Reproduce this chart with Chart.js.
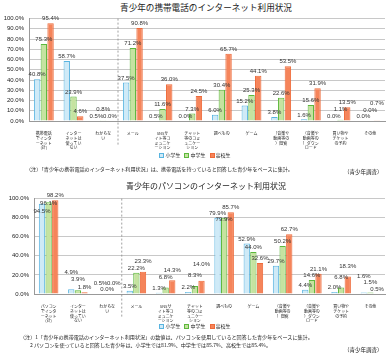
<!DOCTYPE html>
<html lang="ja">
<head>
<meta charset="utf-8">
<script src="https://cdn.jsdelivr.net/npm/chart.js@4.4.0/dist/chart.umd.min.js"></script>
<style>
  body { margin: 0; width: 390px; height: 353px; background: #fff; position: relative; overflow: hidden;
         font-family: "Noto Sans CJK JP", sans-serif; color: #222; }
  canvas { position: absolute; left: 0; }
  .title { position: absolute; left: 0; width: 412px; text-align: center; white-space: nowrap; }
  .legend { position: absolute; left: 0; width: 386px; text-align: center; font-size: 5px; white-space: nowrap; }
  .legend span.box { display: inline-block; width: 3px; height: 3px; margin: 0 1px 0 4px; vertical-align: middle; }
  .b1 { border: 1px solid #58b4e0; background: #cfeaf7; }
  .b2 { border: 1px solid #5cb83c; background: #c5e3a0; }
  .b3 { border: 1px solid #ee6a3a; background: #f5845a; }
  .note { position: absolute; font-size: 5.1px; white-space: nowrap; }
  .src { position: absolute; left: 344px; font-size: 5.5px; white-space: nowrap; }
</style>
</head>
<body>
<div class="title" style="top:1px; font-size:8.6px;">青少年の携帯電話のインターネット利用状況</div>
<canvas id="c1" width="390" height="150" style="top:10px"></canvas>
<div class="legend" style="top:151px;"><span class="box b1"></span>小学生<span class="box b2"></span>中学生<span class="box b3"></span>高校生</div>
<div class="note" style="left:26px; top:165px;">（注）「青少年の携帯電話のインターネット利用状況」は、携帯電話を持っていると回答した青少年をベースに集計。</div>
<div class="src" style="top:168px;">（青少年調査）</div>

<div class="title" style="top:180px; font-size:8px;">青少年のパソコンのインターネット利用状況</div>
<canvas id="c2" width="390" height="135" style="top:190px"></canvas>
<div class="legend" style="top:322px;"><span class="box b1"></span>小学生<span class="box b2"></span>中学生<span class="box b3"></span>高校生</div>
<div class="note" style="left:20px; top:333px;">（注）1「青少年の携帯電話のインターネット利用状況」の数値は、パソコンを使用していると回答した青少年をベースに集計。</div>
<div class="note" style="left:30px; top:341px;">2  パソコンを使っていると回答した青少年は、小学生では81.9%、中学生では85.7%、高校生では85.4%。</div>
<div class="src" style="top:346px;">（青少年調査）</div>

<script>
// --- DATA: 携帯電話 ---
const mobileLabels = [
  ["携帯電話", "でインタ", "ーネット", "(計)"],
  ["インター", "ネットは", "使ってい", "ない"],
  ["わからな", "い"],
  ["メール"],
  ["SNSサ", "イト等コ", "ミュニケ", "ーション"],
  ["チャット", "等のコミ", "ュニケー", "ション"],
  ["調べもの"],
  ["ゲーム"],
  ["（音楽や", "動画等の", "）閲覧"],
  ["（音楽や", "動画等の", "）ダウン", "ロード"],
  ["買い物や", "チケット", "の予約"],
  ["その他"]
];
const mobileElementary = [40.8, 58.7, 0.5, 37.5, 0.5, 0.0, 6.0, 15.2, 3.8, 1.6, 0.0, 0.0];
const mobileJunior     = [75.3, 23.9, 0.8, 71.2, 11.6, 7.3, 30.4, 25.3, 22.6, 15.6, 1.1, 0.0];
const mobileHigh       = [95.4, 4.6, 0.0, 90.8, 36.0, 24.5, 65.7, 44.1, 53.5, 31.9, 13.5, 0.7];

// --- DATA: パソコン ---
const pcLabels = [
  ["パソコン", "でインタ", "ーネット", "(計)"],
  ["インター", "ネットは", "使ってい", "ない"],
  ["わからな", "い"],
  ["メール"],
  ["SNSサ", "イト等コ", "ミュニケ", "ーション"],
  ["チャット", "等のコミ", "ュニケー", "ション"],
  ["調べもの"],
  ["ゲーム"],
  ["（音楽や", "動画等の", "）閲覧"],
  ["（音楽や", "動画等の", "）ダウン", "ロード"],
  ["買い物や", "チケット", "の予約"],
  ["その他"]
];
const pcElementary = [94.5, 4.9, 0.5, 3.5, 1.3, 2.2, 79.9, 52.9, 29.7, 4.4, 2.0, 1.6];
const pcJunior     = [96.1, 3.9, 0.0, 22.2, 6.8, 8.3, 79.9, 44.0, 50.2, 14.6, 6.8, 1.5];
const pcHigh       = [98.2, 1.8, 0.0, 23.3, 14.3, 14.0, 85.7, 32.6, 62.7, 21.1, 18.3, 0.5];

const seriesNames = ["小学生", "中学生", "高校生"];
const yMin = 0, yMax = 100, yStep = 10;

// --- PLUGINS ---
// value labels above each bar; labels that would collide get stacked
const valueLabels = {
  id: "valueLabels",
  afterDatasetsDraw(chart) {
    const ctx = chart.ctx;
    ctx.save();
    ctx.font = '6px "Liberation Sans"';
    ctx.fillStyle = "#333";
    ctx.textAlign = "center";
    ctx.textBaseline = "middle";
    const n = chart.data.labels.length;
    for (let j = 0; j < n; j++) {
      let items = chart.data.datasets.map((ds, i) => {
        const bar = chart.getDatasetMeta(i).data[j];
        return { v: ds.data[j], x: bar.x, y: bar.y - 4.5 };
      });
      const high = Math.max(...items.map(it => it.v)) >= 75;
      const dir = high ? 1 : -1;
      items = items.slice().sort((a, b) => high ? b.v - a.v : a.v - b.v);
      const placed = [];
      items.forEach(it => {
        let guard = 0;
        while (placed.some(p => Math.abs(p.x - it.x) < 11 && Math.abs(p.y - it.y) < 6) && guard++ < 5) {
          it.y += dir * 6;
        }
        placed.push(it);
        ctx.fillText(it.v.toFixed(1) + "%", it.x, it.y);
      });
    }
    ctx.restore();
  }
};

const divider = {
  id: "divider",
  afterDraw(chart) {
    const x = chart.scales.x;
    const px = (x.getPixelForValue(2) + x.getPixelForValue(3)) / 2;
    const ctx = chart.ctx;
    ctx.save();
    ctx.strokeStyle = "#888";
    ctx.lineWidth = 0.8;
    ctx.setLineDash([2, 2]);
    ctx.beginPath();
    ctx.moveTo(px, chart.chartArea.top);
    ctx.lineTo(px, chart.chartArea.bottom + 24);
    ctx.stroke();
    ctx.restore();
  }
};

// --- BUILD CHART ---
function makeChart(id, labels, a, b, c, axisWidth, axisHeight) {
  const ctx = document.getElementById(id).getContext("2d");
  return new Chart(ctx, {
    type: "bar",
    data: {
      labels: labels,
      datasets: [
        { label: seriesNames[0], data: a, backgroundColor: "#cfeaf7", borderColor: "#58b4e0", borderWidth: 1 },
        { label: seriesNames[1], data: b, backgroundColor: "#c5e3a0", borderColor: "#5cb83c", borderWidth: 1 },
        { label: seriesNames[2], data: c, backgroundColor: "#f5845a", borderColor: "#ee6a3a", borderWidth: 1 }
      ]
    },
    options: {
      responsive: false,
      animation: false,
      devicePixelRatio: 1,
      layout: { padding: { top: 5, right: 5, left: 0, bottom: 0 } },
      categoryPercentage: 0.68,
      barPercentage: 0.95,
      plugins: { legend: { display: false }, tooltip: { enabled: false } },
      scales: {
        x: {
          grid: { display: false },
          border: { color: "#999" },
          ticks: {
            autoSkip: false, maxRotation: 0, minRotation: 0, padding: 2,
            color: "#222",
            font: { family: "Noto Sans CJK JP", size: 4, lineHeight: 1.2 }
          },
          afterFit(scale) { scale.height = axisHeight; }
        },
        y: {
          min: yMin, max: yMax,
          grid: { color: "#c8c8c8", drawTicks: false },
          border: { color: "#999" },
          ticks: {
            stepSize: yStep, padding: 5, color: "#222",
            font: { family: "Liberation Sans", size: 6 },
            callback: v => v.toFixed(1) + "%"
          },
          afterFit(scale) { scale.width = axisWidth; }
        }
      }
    },
    plugins: [valueLabels, divider]
  });
}

makeChart("c1", mobileLabels, mobileElementary, mobileJunior, mobileHigh, 29, 39);
makeChart("c2", pcLabels, pcElementary, pcJunior, pcHigh, 34, 31);
</script>
</body>
</html>
